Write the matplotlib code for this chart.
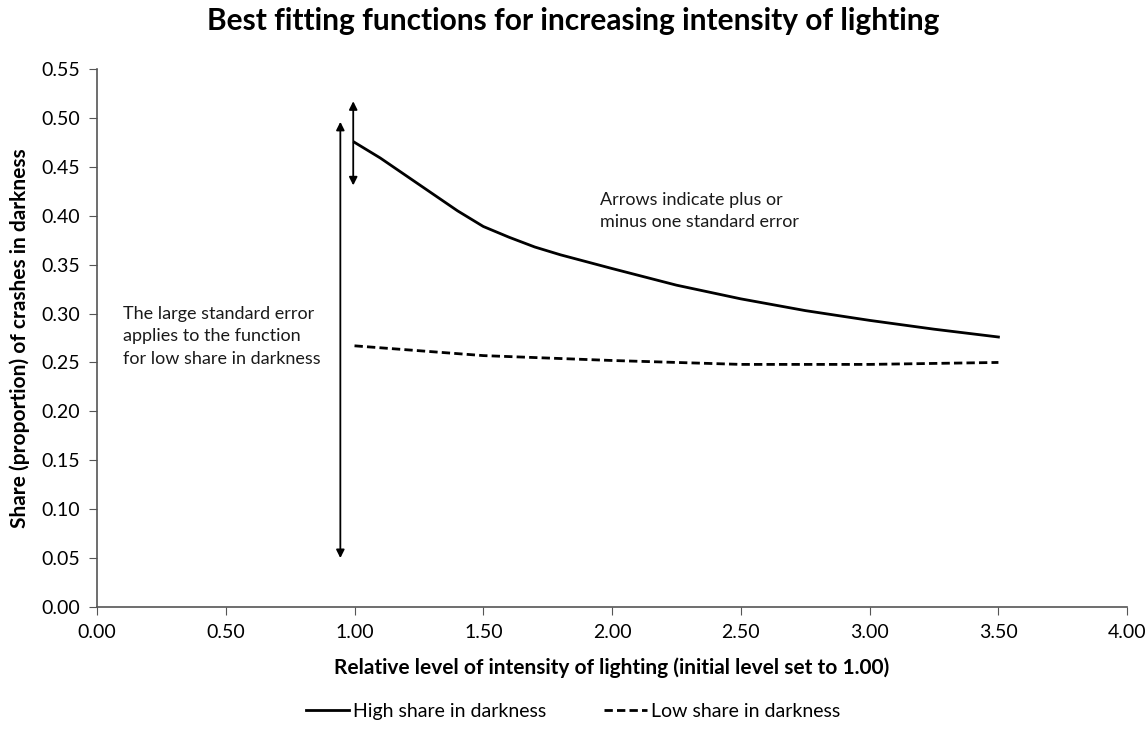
import numpy as np
import matplotlib.pyplot as plt

plt.rcParams['font.family'] = ['Lato', 'DejaVu Sans']

# Fitted functions
light_level = [1.0, 1.1, 1.2, 1.3, 1.4, 1.5, 1.6, 1.7, 1.8, 1.9, 2.0,
               2.25, 2.5, 2.75, 3.0, 3.25, 3.5]
high_share = [0.475, 0.459, 0.441, 0.423, 0.405, 0.389, 0.378, 0.368, 0.360, 0.353, 0.346,
              0.329, 0.315, 0.303, 0.293, 0.284, 0.276]
low_share = [0.267, 0.265, 0.263, 0.261, 0.259, 0.257, 0.256, 0.255, 0.254, 0.253, 0.252,
             0.250, 0.248, 0.248, 0.248, 0.249, 0.250]

# Standard error arrows: (x, low, high)
big_err = (0.945, 0.050, 0.496)
small_err = (0.995, 0.431, 0.517)

fig = plt.figure(figsize=(11.46, 7.30), dpi=100)
ax = fig.add_axes([0.0846, 0.1685, 0.899, 0.737])

ax.plot(light_level, high_share, color='black', lw=2, label='High share in darkness')
ax.plot(light_level, low_share, color='black', lw=2, ls=(0, (3, 1.5)), label='Low share in darkness')

for x, lo, hi in [big_err, small_err]:
    ax.annotate('', xy=(x, hi), xytext=(x, lo),
                arrowprops=dict(arrowstyle='<|-|>', color='black', lw=1.3,
                                mutation_scale=12, shrinkA=0, shrinkB=0))

ax.text(1.955, 0.405, 'Arrows indicate plus or\nminus one standard error',
        fontsize=13, color='#1a1a1a', va='center', linespacing=1.5)
ax.text(0.1, 0.277, 'The large standard error\napplies to the function\nfor low share in darkness',
        fontsize=13, color='#1a1a1a', va='center', linespacing=1.5)

ax.set_xlim(0, 4)
ax.set_ylim(0, 0.55)
ax.set_xticks(np.arange(0, 4.01, 0.5))
ax.set_yticks(np.arange(0, 0.551, 0.05))
ax.set_xticklabels([f'{v:.2f}' for v in np.arange(0, 4.01, 0.5)])
ax.set_yticklabels([f'{v:.2f}' for v in np.arange(0, 0.551, 0.05)])
ax.tick_params(labelsize=14, length=6, color='#555555', pad=6)

for s in ['top', 'right']:
    ax.spines[s].set_visible(False)
for s in ['left', 'bottom']:
    ax.spines[s].set_color('#555555')
    ax.spines[s].set_linewidth(1.2)

ax.set_xlabel('Relative level of intensity of lighting (initial level set to 1.00)',
              fontsize=15, fontweight='bold', labelpad=12)
ax.set_ylabel('Share (proportion) of crashes in darkness', fontsize=15, fontweight='bold', labelpad=8)
fig.suptitle('Best fitting functions for increasing intensity of lighting',
             fontsize=21.5, fontweight='bold', y=0.99)

fig.legend(loc='lower center', bbox_to_anchor=(0.5, -0.01), ncol=2, frameon=False,
           fontsize=14, handlelength=2.2, columnspacing=3, handletextpad=0.2)

fig.savefig('out.png', dpi=100)
